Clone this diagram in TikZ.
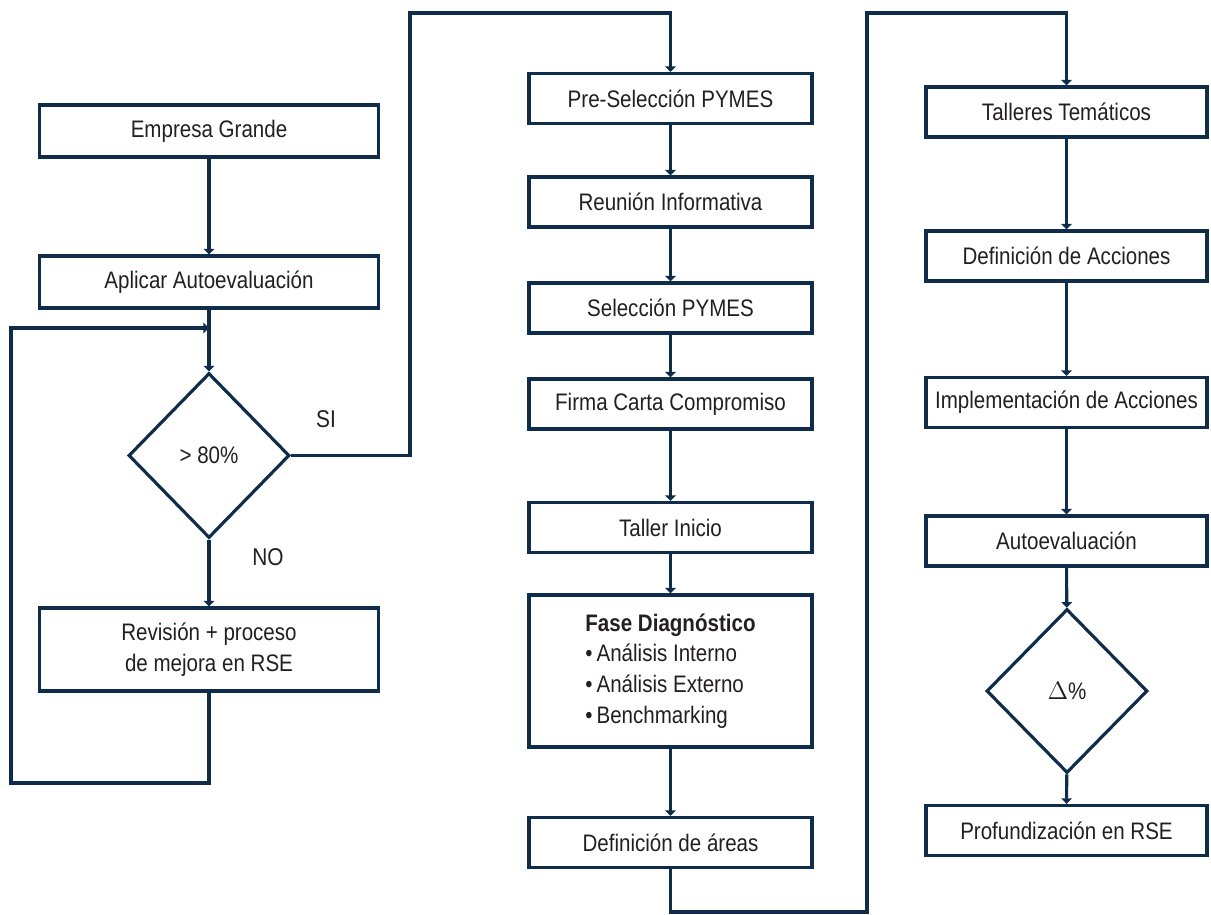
\documentclass[tikz,border=0pt]{standalone}
\usepackage{fontspec}
\setmainfont{Liberation Sans}[FakeStretch=0.86]
\usetikzlibrary{shapes.geometric,arrows.meta}
\definecolor{navy}{HTML}{0F2D4B}
\definecolor{ink}{HTML}{231F20}
\begin{document}
\begin{tikzpicture}[x=0.02cm,y=-0.02cm,
  every node/.style={font=\fontsize{13.6}{17.5}\selectfont, text=ink},
  stepbox/.style={draw=navy, line width=1.8pt, fill=white, inner sep=2pt, minimum height=1cm, align=center},
  leftbox/.style={stepbox, minimum width=6.78cm, minimum height=1.04cm},
  midbox/.style={stepbox, minimum width=5.66cm},
  rightbox/.style={stepbox, minimum width=5.62cm},
  decision/.style={diamond, draw=navy, line width=1.8pt, fill=white, inner sep=0pt, minimum width=3.22cm, minimum height=3.3cm},
  flow/.style={draw=navy, line width=1.8pt, -{Triangle[length=3.2pt,width=6pt]}},
  lbl/.style={font=\fontsize{13.8}{15}\selectfont}
]
\useasboundingbox (0,0) rectangle (1211,914);

% left column: large company self-assessment
\node[leftbox] (e1) at (209,131) {Empresa Grande};
\node[leftbox] (e2) at (209,282) {Aplicar Autoevaluación};
\node[decision] (d1) at (209,455.5) {> 80\%};
\node[leftbox, minimum height=1.66cm] (e3) at (209,649.5) {Revisión + proceso\\de mejora en RSE};
\node[lbl] (si) at (326,419) {SI};
\node[lbl] (no) at (268,557) {NO};

% middle column: SME selection and diagnosis
\node[midbox] (m1) at (670.5,98.5) {Pre-Selección PYMES};
\node[midbox] (m2) at (670.5,202) {Reunión Informativa};
\node[midbox] (m3) at (670.5,308) {Selección PYMES};
\node[midbox] (m4) at (670.5,404) {Firma Carta Compromiso};
\node[midbox] (m5) at (670.5,527.5) {Taller Inicio};
\node[midbox, minimum height=3.04cm, align=left] (m6) at (670.5,671)
  {\textbf{Fase Diagnóstico}\\•\,Análisis Interno\\•\,Análisis Externo\\•\,Benchmarking};
\node[midbox] (m7) at (670.5,842.5) {Definición de áreas};

% right column: workshops and actions
\node[rightbox] (r1) at (1066.5,112) {Talleres Temáticos};
\node[rightbox] (r2) at (1066.5,256) {Definición de Acciones};
\node[rightbox] (r3) at (1066.5,402.5) {Implementación de Acciones};
\node[rightbox] (r4) at (1066.5,541) {Autoevaluación};
\node[decision, minimum height=3.28cm] (d2) at (1067,691) {$\Delta$\%};
\node[rightbox] (r6) at (1066.5,830.5) {Profundización en RSE};

% routing points
\coordinate (join) at (209,328);
\coordinate (loopbot) at (11,783);
\coordinate (siup) at (410,13);
\coordinate (botturn) at (867,912);
\coordinate (topturn) at (867,13);

% connectors
\draw[flow] (e1) -- (e2);
\draw[flow] (e2) -- (d1);
\draw[flow] (d1) -- (e3);
\draw[flow] (e3.south) |- (loopbot) |- (join);
\draw[flow] (d1.east) -| (siup) -| (m1.north);

\draw[flow] (m1) -- (m2);
\draw[flow] (m2) -- (m3);
\draw[flow] (m3) -- (m4);
\draw[flow] (m4) -- (m5);
\draw[flow] (m5) -- (m6);
\draw[flow] (m6) -- (m7);
\draw[flow] (m7.south) |- (botturn) -- (topturn) -| (r1.north);

\draw[flow] (r1) -- (r2);
\draw[flow] (r2) -- (r3);
\draw[flow] (r3) -- (r4);
\draw[flow] (r4) -- (d2);
\draw[flow] (d2) -- (r6);
\end{tikzpicture}
\end{document}
